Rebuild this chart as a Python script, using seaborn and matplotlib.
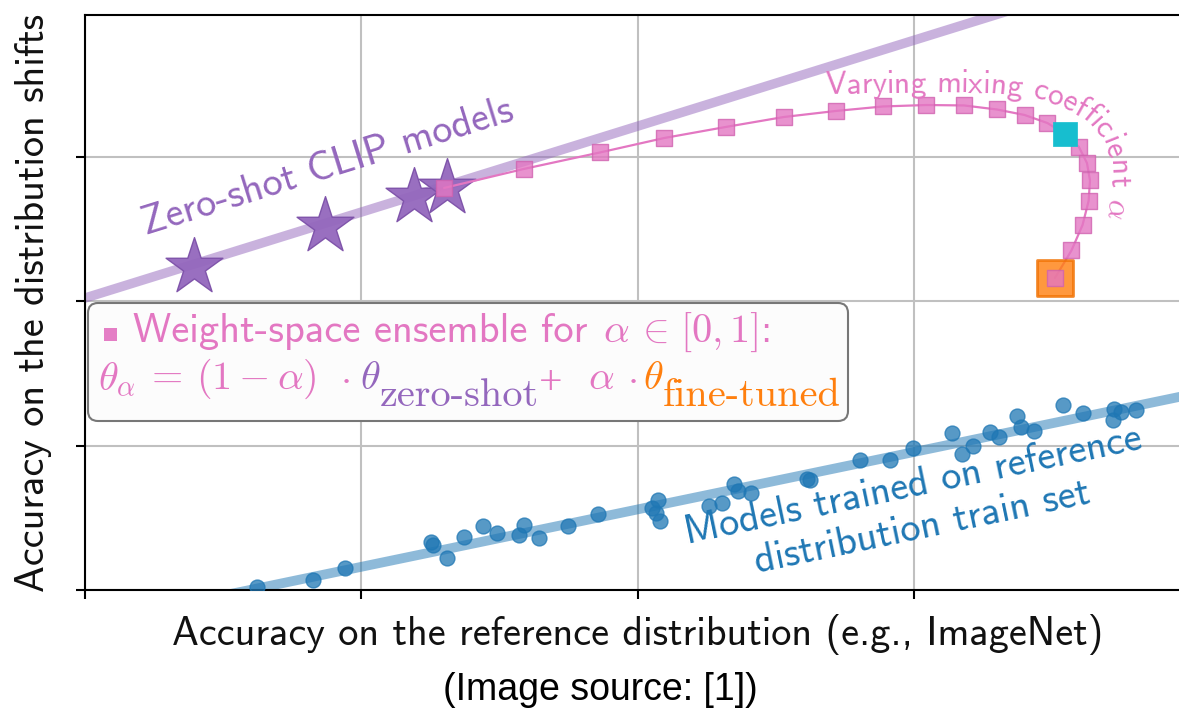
import numpy as np
import pandas as pd
import matplotlib
matplotlib.use("Agg")
import matplotlib.pyplot as plt
import matplotlib.transforms as mtransforms
from matplotlib.patches import FancyBboxPatch, Rectangle
import seaborn as sns
from matplotlib.font_manager import FontProperties

# ---------------- data ----------------
# zero-shot CLIP models (stars)
zs_x = [53.95, 58.69, 61.91, 63.10]
zs_y = [42.39, 45.23, 47.24, 47.87]

# weight-space ensemble path, alpha = 0 ... 1 in 21 steps
wise_x = [63.00, 65.89, 68.64, 70.96, 73.20, 75.30, 77.19, 78.89, 80.46, 81.82, 83.01,
          84.01, 84.84, 85.48, 85.98, 86.27, 86.38, 86.33, 86.11, 85.71, 85.11]
wise_y = [47.87, 49.19, 50.33, 51.33, 52.10, 52.79, 53.21, 53.52, 53.62, 53.59, 53.31,
          52.93, 52.37, 51.61, 50.71, 49.60, 48.39, 46.97, 45.30, 43.54, 41.63]
best_idx = 13          # highlighted (cyan) mixing coefficient
ft_idx = 20            # fine-tuned end point (alpha = 1)

# models trained on the reference distribution (blue dots)
std_x = [56.24, 58.24, 59.41, 62.54, 62.58, 63.10, 63.71, 64.39, 64.91, 65.70, 65.88,
         66.43, 67.47, 68.57, 70.53, 70.74, 70.81, 70.67, 72.60, 73.05, 73.49, 73.65,
         74.10, 76.12, 76.24, 78.05, 79.14, 79.96, 81.37, 81.74, 82.16, 82.76, 83.10,
         83.75, 83.87, 84.35, 85.39, 86.14, 87.22, 87.25, 87.49, 88.05]
std_y = [20.23, 20.69, 21.55, 23.35, 23.12, 22.20, 23.70, 24.44, 23.97, 23.81, 24.51,
         23.58, 24.46, 25.27, 25.68, 26.24, 24.78, 25.34, 25.82, 26.05, 27.35, 26.88,
         26.75, 27.67, 27.63, 29.01, 29.01, 29.86, 30.86, 29.43, 29.98, 30.93, 30.63,
         32.06, 31.32, 31.04, 32.82, 32.25, 31.79, 32.53, 32.36, 32.48]

# linear trends
zs_fit_x = [48.0, 90.0]
zs_fit_y = [39.05, 64.06]
std_fit_x = [54.0, 90.0]
std_fit_y = [19.22, 33.54]

x_ticks = [50, 60, 70, 80, 90]
y_ticks = [20, 30, 40, 50]

PURPLE = "#9467bd"
PINK = "#e377c2"
BLUE = "#1f77b4"
ORANGE = "#ff7f0e"
CYAN = "#17becf"

# ---------------- style ----------------
sns.set_theme(style="whitegrid")
plt.rcParams["font.family"] = ["cmss10", "DejaVu Sans"]
plt.rcParams["mathtext.fontset"] = "cm"
plt.rcParams["axes.formatter.use_mathtext"] = True
plt.rcParams["axes.unicode_minus"] = False
FAM = ["cmss10", "DejaVu Sans"]
RFAM = ["cmr10", "DejaVu Serif"]
SFAM = ["Liberation Serif", "DejaVu Serif"]

W, H = 1179, 716
fig = plt.figure(figsize=(W / 100, H / 100), dpi=100)
ax = fig.add_axes([85 / W, (H - 590) / H, 1105 / W, 575 / H])
ax.set_xlim(50, 90)
ax.set_ylim(20, 59.86)
# image-pixel transform (origin top-left) used for the annotation box layout
pix = mtransforms.Affine2D().scale(1 / W, -1 / H).translate(0, 1) + fig.transFigure

# ---------------- marks ----------------
sns.lineplot(x=zs_fit_x, y=zs_fit_y, ax=ax, color=PURPLE, alpha=0.5, lw=6.8,
             sort=False, estimator=None, zorder=2)
sns.lineplot(x=std_fit_x, y=std_fit_y, ax=ax, color=BLUE, alpha=0.5, lw=7.0,
             sort=False, estimator=None, zorder=2)

sns.scatterplot(x=std_x, y=std_y, ax=ax, marker="o", s=115, color=BLUE, alpha=0.75,
                edgecolor=BLUE, linewidth=1.0, zorder=3)

sns.scatterplot(x=zs_x, y=zs_y, ax=ax, marker="*", s=1850, color=PURPLE, alpha=0.95,
                edgecolor="#7c50a8", linewidth=1.0, zorder=3)

sns.lineplot(x=wise_x, y=wise_y, ax=ax, color=PINK, lw=1.6, sort=False,
             estimator=None, zorder=4)
sns.scatterplot(x=[wise_x[ft_idx]], y=[wise_y[ft_idx]], ax=ax, marker="s", s=640,
                color=ORANGE, alpha=0.8, edgecolor="#f07000", linewidth=2.0, zorder=4.5)
sns.scatterplot(x=wise_x, y=wise_y, ax=ax, marker="s", s=135, color=PINK, alpha=0.8,
                edgecolor="#d062b0", linewidth=1.0, zorder=5)
sns.scatterplot(x=[wise_x[best_idx]], y=[wise_y[best_idx]], ax=ax, marker="s", s=320,
                color=CYAN, edgecolor=CYAN, linewidth=0.5, zorder=6)

# ---------------- axes styling ----------------
ax.set_xticks(x_ticks)
ax.set_yticks(y_ticks)
ax.grid(True, color="#c0c0c0", lw=1.5)
ax.set_axisbelow(True)
ax.tick_params(direction="out", length=6.5, width=1.5, colors="black",
               left=True, bottom=True, labelleft=False, labelbottom=False)
for side in ["left", "bottom", "top", "right"]:
    ax.spines[side].set_color("black")
    ax.spines[side].set_linewidth(1.5)

ax.set_xlabel("Accuracy on the reference distribution (e.g., ImageNet)",
              fontsize=29, labelpad=11, color="#111111", visible=True)
ax.set_ylabel("Accuracy on the distribution shifts", fontsize=29, labelpad=17,
              color="#111111", visible=True)

ax.text(58.78, 49.29, "Zero-shot CLIP models", color=PURPLE, fontsize=29,
        rotation=17.3, ha="center", va="center", zorder=8)
ax.text(80.15, 25.75, "Models trained on reference\ndistribution train set",
        color=BLUE, fontsize=29, rotation=11.8, ha="center", va="center",
        multialignment="center", linespacing=1.2, zorder=8)

fig.text(600 / W, 1 - 690 / H, "(Image source: [1])", ha="center", va="center",
         fontsize=27, family=["Liberation Sans", "DejaVu Sans"], color="black")

# ---------------- legend-like annotation box ----------------
box = FancyBboxPatch((88, 303), 848 - 88, 421 - 303,
                     boxstyle="round,pad=0,rounding_size=10", transform=pix,
                     facecolor="#fcfcfc", edgecolor="#777777", lw=1.5, zorder=7,
                     clip_on=False)
ax.add_artist(box)
ax.add_artist(Rectangle((103.5, 327.5), 13, 13, transform=pix, facecolor=PINK,
                        edgecolor="none", alpha=0.95, zorder=8, clip_on=False))

box_texts = [
    # (x, y, text, colour, family, ha, va, size)
    (133, 341.7, "Weight-space ensemble for", PINK, FAM, "left", "baseline", 29.2),
    (603, 341.7, r"$\alpha$", PINK, FAM, "left", "baseline", 29),
    (651.5, 341.7, r"$\in$", PINK, FAM, "center", "baseline", 29),
    (680, 341.7, r"$[0, 1]$:", PINK, FAM, "left", "baseline", 29),
    (98, 389, r"$\theta_\alpha$", PINK, FAM, "left", "baseline", 29),
    (167, 389, "=", PINK, RFAM, "center", "baseline", 29),
    (196, 389, r"$(1-\alpha)$", PINK, FAM, "left", "baseline", 29),
    (345, 389, r"$\cdot$", PINK, FAM, "center", "baseline", 29),
    (360, 389, r"$\theta$", PURPLE, FAM, "left", "baseline", 29),
    (380, 406, "zero-shot", PURPLE, RFAM, "left", "baseline", 29),
    (550.5, 384, "+", PINK, SFAM, "center", "center", 30),
    (588, 389, r"$\alpha$", PINK, FAM, "left", "baseline", 29),
    (632, 389, r"$\cdot$", PINK, FAM, "center", "baseline", 29),
    (643, 389, r"$\theta$", ORANGE, FAM, "left", "baseline", 29),
    (663, 406, "fine-tuned", ORANGE, RFAM, "left", "baseline", 29),
]
for bx, by, s, c, fam, ha, va, fs in box_texts:
    ax.text(bx, by, s, transform=pix, color=c, family=fam, fontsize=fs, ha=ha,
            va=va, zorder=9, clip_on=False)

# ---------------- curved annotation ----------------
path_x = [76.82, 78.78, 80.95, 82.76, 84.21, 85.29, 86.18, 86.76, 87.08, 87.12, 87.02, 86.80]
path_y = [54.38, 54.45, 54.52, 54.45, 54.18, 53.55, 52.58, 51.33, 49.81, 48.08, 46.00, 44.26]


def text_on_path(tokens, px, py, size, color):
    fig.canvas.draw()
    r = fig.canvas.get_renderer()
    fp = FontProperties(family=FAM, size=size)
    pts = ax.transData.transform(np.column_stack([px, py]))
    seg = np.hypot(np.diff(pts[:, 0]), np.diff(pts[:, 1]))
    cum = np.concatenate([[0], np.cumsum(seg)])

    def pos(s):
        return np.interp(s, cum, pts[:, 0]), np.interp(s, cum, pts[:, 1])

    wbar = r.get_text_width_height_descent("|", fp, ismath=False)[0]
    off = 0.0
    for tok in tokens:
        if "$" in tok:
            adv = r.get_text_width_height_descent(tok, fp, ismath=True)[0]
        else:
            adv = r.get_text_width_height_descent(tok + "|", fp, ismath=False)[0] - wbar
        sc = off + adv / 2
        x0, y0 = pos(sc)
        xa, ya = pos(sc - 4)
        xb, yb = pos(sc + 4)
        ang = np.degrees(np.arctan2(yb - ya, xb - xa))
        dx, dy = ax.transData.inverted().transform((x0, y0))
        if tok.strip():
            ax.text(dx, dy, tok, fontsize=size, color=color, family=FAM, rotation=ang,
                    rotation_mode="anchor", ha="center", va="baseline", zorder=8)
        off += adv


tokens = list("Varying mixing coefficient ") + [r"$\alpha$"]
text_on_path(tokens, path_x, path_y, 22.5, PINK)

fig.savefig("out.png", dpi=100)
